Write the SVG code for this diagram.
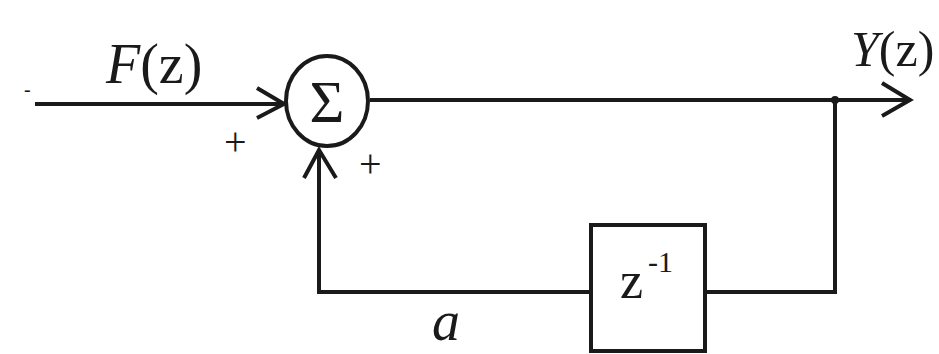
<svg xmlns="http://www.w3.org/2000/svg" width="939" height="354" viewBox="0 0 939 354">
<style>
.ln{fill:none;stroke:#1a1a1a;stroke-width:4;stroke-linejoin:miter}
.ah{fill:none;stroke:#1a1a1a;stroke-width:4}
.t{font-family:'Liberation Serif','Times New Roman','DejaVu Serif',serif;fill:#1a1a1a}
</style>
<rect width="939" height="354" fill="#fff"/>
<g id="connectors">
<path class="ln" d="M35,104 H284"/>
<path class="ah" d="M257,88 L284,104 L257,118"/>
<path class="ln" d="M370,100 H908"/>
<path class="ah" d="M882,83 L910,100 L882,116"/>
<circle cx="835" cy="100" r="4" fill="#1a1a1a"/>
<path class="ln" d="M835,100 V292 H706"/>
<path class="ln" d="M590,292 H319 V150"/>
<path class="ah" d="M304,178 L319,150 L336,178"/>
</g>
<g id="sum">
<ellipse cx="327" cy="101" rx="41" ry="45" class="ln"/>
<text class="t" font-family="Liberation Serif, serif" x="327" y="122" font-size="60" text-anchor="middle">Σ</text>
</g>
<g id="delay">
<rect x="591" y="225" width="114" height="126" class="ln"/>
<text class="t" font-family="Liberation Serif, serif" x="620" y="298" font-size="52">z</text>
<text class="t" font-family="Liberation Serif, serif" x="648" y="272" font-size="30">-1</text>
</g>
<g id="labels">
<text class="t" font-family="Liberation Serif, serif" x="24" y="96" font-size="20">-</text>
<text class="t" font-family="Liberation Serif, serif" x="106" y="83" font-size="56"><tspan font-style="italic">F</tspan>(z)</text>
<text class="t" font-family="Liberation Serif, serif" x="851" y="66" font-size="50"><tspan font-style="italic">Y</tspan>(z)</text>
<text class="t" font-family="Liberation Serif, serif" x="224" y="155" font-size="40">+</text>
<text class="t" font-family="Liberation Serif, serif" x="359" y="177" font-size="40">+</text>
<text class="t" font-family="Liberation Serif, serif" x="432" y="340" font-size="56" font-style="italic">a</text>
</g>
</svg>
